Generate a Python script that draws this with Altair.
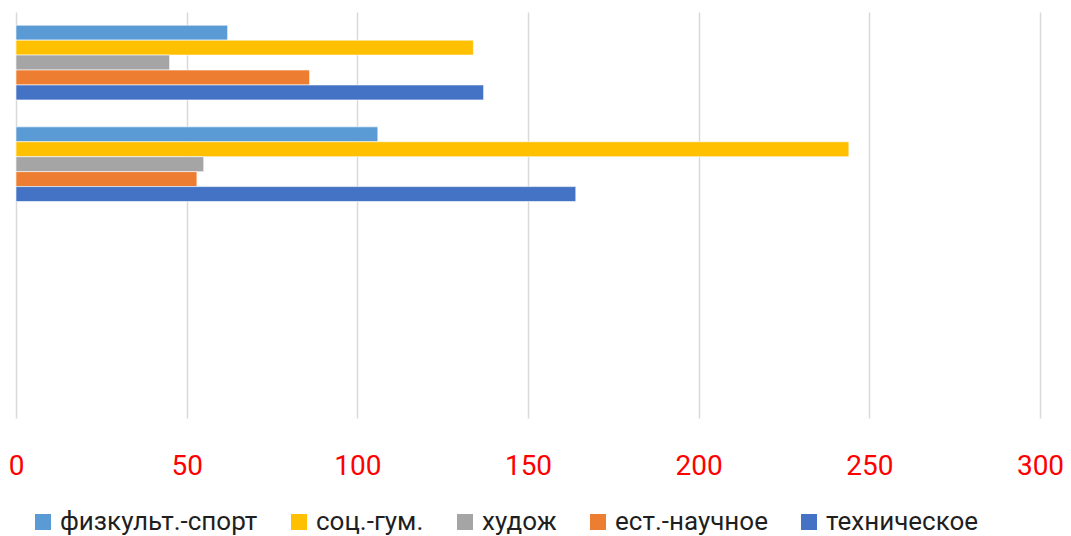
import altair as alt
import pandas as pd

categories = ["Группа 1", "Группа 2", "Группа 3", "Группа 4"]
series = ["физкульт.-спорт", "соц.-гум.", "худож", "ест.-научное", "техническое"]
colors = ["#5B9BD5", "#FFC000", "#A5A5A5", "#ED7D31", "#4472C4"]
group1 = [62, 134, 45, 86, 137]
group2 = [106, 244, 55, 53, 164]
x_ticks = [0, 50, 100, 150, 200, 250, 300]

rows = []
for s, v in zip(series, group1):
    rows.append({"cat": categories[0], "series": s, "value": v})
for s, v in zip(series, group2):
    rows.append({"cat": categories[1], "series": s, "value": v})
df = pd.DataFrame(rows)

FONT = "Roboto"

chart = alt.Chart(df).mark_bar(stroke="white", strokeWidth=0.6).encode(
    x=alt.X("value:Q",
            scale=alt.Scale(domain=[0, 300], nice=False),
            axis=alt.Axis(values=x_ticks, title=None, labelColor="#FF0000",
                          labelFontSize=28, labelFont=FONT, labelPadding=34,
                          ticks=False, domain=False, gridColor="#D9D9D9",
                          gridWidth=1.5, labelFlush=False)),
    y=alt.Y("cat:N",
            scale=alt.Scale(domain=categories, paddingInner=0.265, paddingOuter=0.13),
            axis=alt.Axis(title=None, labels=False, ticks=False, domain=False, grid=False)),
    yOffset=alt.YOffset("series:N", scale=alt.Scale(domain=series)),
    color=alt.Color("series:N",
                    scale=alt.Scale(domain=series, range=colors),
                    legend=alt.Legend(title=None, orient="none", direction="horizontal",
                                      legendX=14, legendY=497, symbolType="square",
                                      symbolSize=256, symbolStrokeWidth=0,
                                      labelFontSize=26, labelFont=FONT,
                                      labelColor="#1f1f1f", columnPadding=28,
                                      labelOffset=4, padding=0, labelLimit=400)),
).properties(
    width=1024,
    height=406,
    padding={"left": 8, "top": 4, "right": 23, "bottom": 118},
    autosize=alt.AutoSizeParams(type="none"),
).configure_view(stroke=None)

chart.save("out.html", embed_options={"renderer": "svg", "actions": False})
